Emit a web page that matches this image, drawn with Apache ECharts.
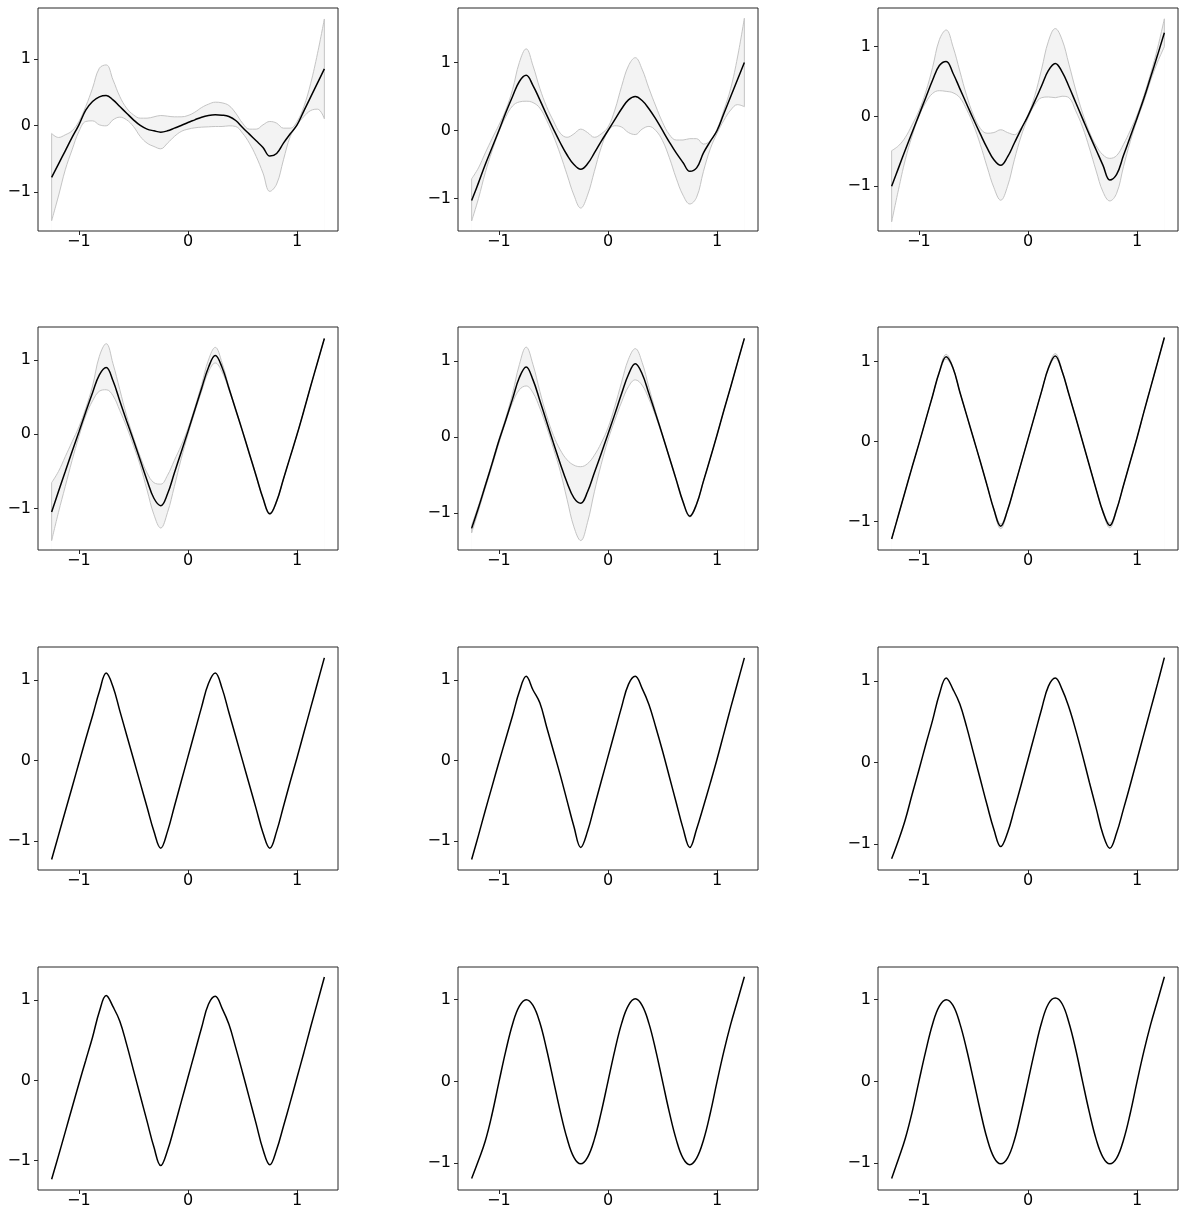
<!DOCTYPE html>
<html><head><meta charset="utf-8">
<script src="https://cdn.jsdelivr.net/npm/echarts@6/dist/echarts.min.js"></script>
<style>html,body{margin:0;padding:0;background:#fff}#c{width:1179px;height:1216px}</style>
</head><body><div id="c"></div>
<script>
const X = [-1.25,-1.1875,-1.125,-1.0625,-1,-0.9375,-0.875,-0.8125,-0.75,-0.6875,-0.625,-0.5625,-0.5,-0.4375,-0.375,-0.3125,-0.25,-0.1875,-0.125,-0.0625,0,0.0625,0.125,0.1875,0.25,0.3125,0.375,0.4375,0.5,0.5625,0.625,0.6875,0.75,0.8125,0.875,0.9375,1,1.0625,1.125,1.1875,1.25];

const mean1 = [-0.78,-0.58,-0.38,-0.18,0.01,0.23,0.36,0.43,0.45,0.385,0.285,0.185,0.085,0.0,-0.055,-0.08,-0.1,-0.08,-0.04,0.0,0.045,0.085,0.125,0.15,0.16,0.155,0.135,0.075,-0.03,-0.13,-0.23,-0.33,-0.46,-0.42,-0.265,-0.125,0.01,0.22,0.43,0.64,0.85];
const upper1 = [-0.12,-0.18,-0.14,-0.08,0.06,0.285,0.56,0.86,0.91,0.685,0.435,0.26,0.16,0.11,0.11,0.13,0.15,0.14,0.13,0.13,0.15,0.2,0.27,0.32,0.35,0.34,0.3,0.185,0.035,-0.055,-0.055,0.01,0.06,0.035,-0.04,-0.04,0.06,0.285,0.635,1.085,1.6];
const lower1 = [-1.43,-1.06,-0.665,-0.365,-0.09,0.06,0.07,0.01,-0.005,0.085,0.125,0.085,-0.015,-0.165,-0.265,-0.315,-0.35,-0.265,-0.165,-0.09,-0.055,-0.035,-0.025,-0.02,-0.015,-0.015,-0.005,-0.015,-0.115,-0.265,-0.465,-0.715,-0.99,-0.88,-0.515,-0.165,0.01,0.135,0.225,0.245,0.1];

const mean2 = [-1.03,-0.77,-0.5,-0.25,0.0,0.26,0.5,0.72,0.81,0.66,0.45,0.23,0.02,-0.18,-0.36,-0.5,-0.57,-0.49,-0.33,-0.16,0.0,0.16,0.32,0.45,0.5,0.44,0.32,0.17,0.0,-0.17,-0.33,-0.47,-0.6,-0.55,-0.33,-0.16,0.0,0.25,0.5,0.75,1.0];
const upper2 = [-0.71,-0.55,-0.33,-0.12,0.08,0.3,0.6,1.0,1.2,0.95,0.62,0.35,0.14,-0.04,-0.1,-0.05,0.02,-0.03,-0.1,-0.05,0.05,0.3,0.65,0.95,1.07,0.9,0.62,0.36,0.12,-0.06,-0.14,-0.14,-0.12,-0.12,-0.2,-0.15,0.02,0.3,0.62,1.08,1.65];
const lower2 = [-1.33,-1.0,-0.62,-0.3,-0.02,0.2,0.36,0.42,0.43,0.41,0.33,0.15,-0.08,-0.35,-0.65,-0.95,-1.14,-0.95,-0.6,-0.25,-0.01,0.07,0.05,-0.03,-0.06,0.02,0.06,0.0,-0.15,-0.4,-0.7,-0.95,-1.08,-0.98,-0.6,-0.27,-0.04,0.15,0.3,0.38,0.35];

const mean3 = [-1.0,-0.74,-0.48,-0.23,0.02,0.27,0.52,0.73,0.79,0.62,0.4,0.18,-0.04,-0.25,-0.45,-0.62,-0.7,-0.58,-0.38,-0.18,0.01,0.22,0.44,0.66,0.76,0.64,0.43,0.2,-0.03,-0.26,-0.48,-0.7,-0.91,-0.83,-0.56,-0.29,-0.02,0.26,0.57,0.88,1.2];
const upper3 = [-0.49,-0.42,-0.3,-0.12,0.08,0.35,0.7,1.1,1.24,1.0,0.65,0.3,0.02,-0.17,-0.24,-0.23,-0.19,-0.23,-0.26,-0.16,0.02,0.3,0.68,1.08,1.26,1.1,0.75,0.38,0.05,-0.22,-0.42,-0.55,-0.6,-0.56,-0.4,-0.2,0.02,0.3,0.62,0.98,1.4];
const lower3 = [-1.51,-1.05,-0.62,-0.28,0.0,0.2,0.33,0.37,0.36,0.34,0.27,0.1,-0.12,-0.4,-0.72,-1.02,-1.2,-1.0,-0.62,-0.28,-0.02,0.17,0.27,0.28,0.27,0.29,0.27,0.08,-0.15,-0.45,-0.78,-1.08,-1.21,-1.1,-0.72,-0.36,-0.05,0.22,0.52,0.78,1.0];

const mean4 = [-1.045,-0.77,-0.5,-0.23,0.03,0.3,0.56,0.8,0.9,0.72,0.45,0.18,-0.08,-0.35,-0.62,-0.86,-0.96,-0.8,-0.52,-0.24,0.04,0.33,0.62,0.9,1.06,0.9,0.62,0.33,0.04,-0.26,-0.56,-0.86,-1.07,-0.9,-0.6,-0.3,0.0,0.32,0.65,0.97,1.29];
const upper4 = [-0.65,-0.5,-0.3,-0.1,0.1,0.35,0.65,1.05,1.22,0.95,0.6,0.25,-0.04,-0.3,-0.52,-0.65,-0.67,-0.55,-0.35,-0.15,0.08,0.36,0.67,1.0,1.17,0.96,0.64,0.34,0.05,-0.25,-0.55,-0.85,-1.06,-0.89,-0.6,-0.3,0.0,0.32,0.65,0.97,1.29];
const lower4 = [-1.43,-1.05,-0.7,-0.35,-0.03,0.25,0.45,0.58,0.6,0.52,0.32,0.1,-0.15,-0.42,-0.75,-1.08,-1.26,-1.05,-0.7,-0.33,0.0,0.3,0.58,0.84,0.96,0.84,0.6,0.32,0.03,-0.27,-0.57,-0.87,-1.08,-0.91,-0.6,-0.3,0.0,0.32,0.65,0.97,1.29];

const mean5 = [-1.2,-0.93,-0.64,-0.35,-0.05,0.22,0.5,0.78,0.92,0.75,0.48,0.2,-0.08,-0.35,-0.6,-0.8,-0.87,-0.72,-0.47,-0.22,0.04,0.3,0.57,0.82,0.96,0.83,0.57,0.3,0.02,-0.27,-0.56,-0.85,-1.04,-0.88,-0.58,-0.28,0.03,0.35,0.66,0.98,1.295];
const upper5 = [-1.16,-0.9,-0.62,-0.33,-0.03,0.25,0.57,0.95,1.18,0.95,0.6,0.28,0.02,-0.17,-0.3,-0.37,-0.39,-0.35,-0.24,-0.08,0.12,0.4,0.72,1.02,1.16,0.98,0.65,0.33,0.03,-0.26,-0.55,-0.84,-1.03,-0.87,-0.58,-0.28,0.03,0.35,0.66,0.98,1.295];
const lower5 = [-1.26,-0.97,-0.67,-0.38,-0.08,0.2,0.45,0.62,0.67,0.58,0.38,0.13,-0.15,-0.45,-0.82,-1.18,-1.36,-1.12,-0.72,-0.36,-0.04,0.22,0.46,0.66,0.75,0.68,0.5,0.27,0.01,-0.28,-0.57,-0.86,-1.05,-0.89,-0.58,-0.28,0.03,0.35,0.66,0.98,1.295];

const mean6 = [-1.22,-0.92,-0.62,-0.32,-0.03,0.27,0.57,0.87,1.06,0.92,0.62,0.33,0.04,-0.25,-0.55,-0.85,-1.06,-0.86,-0.57,-0.27,0.03,0.33,0.63,0.92,1.07,0.88,0.59,0.3,0.0,-0.3,-0.6,-0.88,-1.05,-0.85,-0.55,-0.25,0.05,0.37,0.68,0.99,1.3];
const upper6 = [-1.22,-0.92,-0.62,-0.32,-0.03,0.27,0.57,0.88,1.09,0.93,0.62,0.33,0.04,-0.25,-0.55,-0.84,-1.03,-0.85,-0.57,-0.27,0.03,0.33,0.63,0.93,1.1,0.89,0.59,0.3,0.0,-0.3,-0.6,-0.87,-1.02,-0.84,-0.55,-0.25,0.05,0.37,0.68,0.99,1.3];
const lower6 = [-1.22,-0.92,-0.62,-0.32,-0.03,0.27,0.57,0.86,1.03,0.91,0.62,0.33,0.04,-0.25,-0.55,-0.86,-1.09,-0.87,-0.57,-0.27,0.03,0.33,0.63,0.91,1.04,0.87,0.59,0.3,0.0,-0.3,-0.6,-0.89,-1.08,-0.86,-0.55,-0.25,0.05,0.37,0.68,0.99,1.3];
const mean7 = [-1.23,-0.93,-0.63,-0.33,-0.03,0.27,0.56,0.86,1.09,0.92,0.62,0.32,0.02,-0.28,-0.58,-0.88,-1.09,-0.88,-0.57,-0.26,0.05,0.36,0.67,0.96,1.09,0.9,0.6,0.3,0.0,-0.3,-0.6,-0.9,-1.09,-0.88,-0.57,-0.26,0.04,0.35,0.66,0.97,1.28];
const mean8 = [-1.23,-0.93,-0.62,-0.32,-0.02,0.27,0.56,0.86,1.05,0.88,0.72,0.42,0.12,-0.18,-0.5,-0.82,-1.08,-0.88,-0.57,-0.26,0.05,0.36,0.67,0.95,1.05,0.9,0.7,0.42,0.12,-0.2,-0.52,-0.84,-1.08,-0.85,-0.57,-0.28,0.02,0.34,0.66,0.97,1.28];
const mean9 = [-1.18,-0.955,-0.7,-0.39,-0.09,0.22,0.52,0.84,1.04,0.9,0.72,0.44,0.12,-0.2,-0.52,-0.82,-1.03,-0.86,-0.57,-0.27,0.04,0.35,0.66,0.94,1.04,0.9,0.68,0.4,0.09,-0.24,-0.56,-0.88,-1.05,-0.86,-0.57,-0.27,0.04,0.35,0.66,0.97,1.29];
const mean10 = [-1.23,-0.94,-0.64,-0.34,-0.04,0.25,0.54,0.86,1.06,0.92,0.74,0.45,0.13,-0.19,-0.51,-0.83,-1.06,-0.87,-0.58,-0.27,0.04,0.35,0.66,0.95,1.05,0.9,0.7,0.41,0.1,-0.22,-0.54,-0.86,-1.05,-0.86,-0.57,-0.27,0.04,0.35,0.67,0.98,1.29];
const mean11 = [-1.19,-0.97,-0.73,-0.4,-0.01,0.37,0.7,0.92,1.0,0.93,0.72,0.39,0.01,-0.37,-0.7,-0.93,-1.01,-0.93,-0.71,-0.38,0.0,0.38,0.71,0.93,1.01,0.93,0.71,0.38,0.0,-0.38,-0.71,-0.94,-1.02,-0.94,-0.72,-0.39,0.0,0.37,0.7,0.99,1.28];
const mean12 = [-1.19,-0.95,-0.7,-0.38,0.0,0.37,0.7,0.92,1.0,0.93,0.71,0.39,0.02,-0.36,-0.7,-0.93,-1.01,-0.94,-0.72,-0.38,0.0,0.38,0.72,0.95,1.02,0.95,0.72,0.39,0.0,-0.38,-0.71,-0.93,-1.01,-0.94,-0.72,-0.39,0.0,0.37,0.7,0.99,1.28];

const xTicks = [-1, 0, 1];
const yTicks = [-1, 0, 1];
const xLimits = [-1.375, 1.375];
const yLimits = [[-1.585,1.765],[-1.477,1.80],[-1.641,1.555],[-1.556,1.444],[-1.484,1.444],[-1.357,1.432],[-1.361,1.415],[-1.361,1.415],[-1.317,1.42],[-1.365,1.415],[-1.33,1.40],[-1.33,1.40]];

const panels = [
  {mean: mean1, upper: upper1, lower: lower1},
  {mean: mean2, upper: upper2, lower: lower2},
  {mean: mean3, upper: upper3, lower: lower3},
  {mean: mean4, upper: upper4, lower: lower4},
  {mean: mean5, upper: upper5, lower: lower5},
  {mean: mean6, upper: upper6, lower: lower6},
  {mean: mean7}, {mean: mean8},
  {mean: mean9}, {mean: mean10}, {mean: mean11}, {mean: mean12}
];

const colLeft = [38, 458, 878];
const rowTop = [8, 327, 647, 967];
const PW = 300, PH = 223;
const FONT = 'DejaVu Sans';
const SPINE = '#262626';
const EDGE = '#c4c4c4';
const fmt = v => (v < 0 ? '\u2212' + Math.abs(v) : String(v));

const grids = [], xAxes = [], yAxes = [], series = [];
panels.forEach((p, i) => {
  const r = Math.floor(i / 3), c = i % 3;
  grids.push({left: colLeft[c], top: rowTop[r], width: PW, height: PH, show: true, z: 10,
    borderColor: SPINE, borderWidth: 1, backgroundColor: 'rgba(0,0,0,0)'});
  xAxes.push({type: 'value', gridIndex: i, min: xLimits[0], max: xLimits[1],
    axisLine: {show: false, onZero: false}, splitLine: {show: false},
    axisTick: {show: true, inside: false, length: 4, customValues: xTicks, lineStyle: {color: SPINE, width: 1}},
    axisLabel: {customValues: xTicks, formatter: fmt, fontFamily: FONT, fontSize: 16, color: '#000', margin: 3}});
  yAxes.push({type: 'value', gridIndex: i, min: yLimits[i][0], max: yLimits[i][1],
    axisLine: {show: false, onZero: false}, splitLine: {show: false},
    axisTick: {show: true, inside: false, length: 4, customValues: yTicks, lineStyle: {color: SPINE, width: 1}},
    axisLabel: {customValues: yTicks, formatter: fmt, fontFamily: FONT, fontSize: 16, color: '#000', margin: 7}});
  const base = {type: 'line', xAxisIndex: i, yAxisIndex: i, symbol: 'none', smooth: 0.4, silent: true, animation: false};
  if (p.upper) {
    const n = X.length - 1;
    // grey fill from the upper edge down to the axis floor, then white below the lower edge
    series.push(Object.assign({}, base, {data: X.map((x, k) => [x, p.upper[k]]),
      lineStyle: {width: 0, opacity: 0}, areaStyle: {color: '#f3f3f3', opacity: 1, origin: 'start'}, z: 1}));
    series.push(Object.assign({}, base, {data: X.map((x, k) => [x, p.lower[k]]),
      lineStyle: {width: 0, opacity: 0}, areaStyle: {color: '#ffffff', opacity: 1, origin: 'start'}, z: 1}));
    series.push(Object.assign({}, base, {data: X.map((x, k) => [x, p.upper[k]]),
      lineStyle: {color: EDGE, width: 1}, z: 2}));
    series.push(Object.assign({}, base, {data: X.map((x, k) => [x, p.lower[k]]),
      lineStyle: {color: EDGE, width: 1}, z: 2}));
    // closing edges of the band at both ends
    series.push(Object.assign({}, base, {smooth: false, data: [[X[0], p.lower[0]], [X[0], p.upper[0]]],
      lineStyle: {color: EDGE, width: 1}, z: 2}));
    series.push(Object.assign({}, base, {smooth: false, data: [[X[n], p.lower[n]], [X[n], p.upper[n]]],
      lineStyle: {color: EDGE, width: 1}, z: 2}));
  }
  series.push(Object.assign({}, base, {data: X.map((x, k) => [x, p.mean[k]]),
    lineStyle: {color: '#000', width: 1.5}, z: 3}));
});

const chart = echarts.init(document.getElementById('c'), null, {renderer: 'canvas'});
chart.setOption({animation: false, backgroundColor: '#fff', grid: grids, xAxis: xAxes, yAxis: yAxes, series: series});
</script>
</body></html>
